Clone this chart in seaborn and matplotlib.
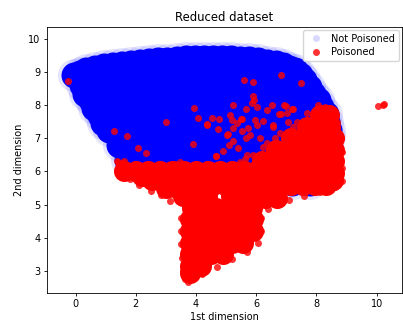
import numpy as np
import pandas as pd
import matplotlib
matplotlib.use("Agg")
import matplotlib.pyplot as plt
from matplotlib.lines import Line2D
import seaborn as sns

# ---- "Not Poisoned" cloud ----
blue_edge_x = [-0.05, 0.15, 0.35, 0.65, 0.95, 1.25, 1.55, 1.85, 2.15, 2.45, 2.75, 3.05, 3.35, 3.65,
               3.95, 4.25, 4.55, 4.85, 5.15, 5.45, 5.75, 6.05, 6.35, 6.65, 6.9, 7.1, 7.3, 7.45, 7.6,
               7.75, 7.9, 8.05, 8.15, 8.3, 8.35, 8.4, 8.4, 0.3, 0.6, 0.9]
blue_edge_y = [8.9, 8.98, 9.06, 9.12, 9.17, 9.21, 9.25, 9.28, 9.3, 9.33, 9.35, 9.37, 9.38, 9.41,
               9.43, 9.43, 9.43, 9.43, 9.42, 9.4, 9.38, 9.35, 9.31, 9.26, 9.2, 9.13, 9.05, 8.92, 8.75,
               8.56, 8.35, 8.15, 7.95, 7.72, 7.5, 7.25, 7.05, 8.35, 7.9, 7.45]

blue_row_y = [9.0, 8.6, 8.15, 7.7, 7.25, 6.8, 6.35, 5.9, 5.65]
blue_row_x = [
    [1.2, 1.8, 2.4, 3.0, 3.6, 4.2, 4.8, 5.4, 6.0, 6.6, 7.1],
    [0.2, 0.8, 1.4, 2.0, 2.6, 3.2, 3.8, 4.4, 5.0, 5.6, 6.2, 6.8, 7.4],
    [0.5, 1.1, 1.7, 2.3, 2.9, 3.5, 4.1, 4.7, 5.3, 5.9, 6.5, 7.1, 7.7],
    [0.8, 1.4, 2.0, 2.6, 3.2, 3.8, 4.4, 5.0, 5.6, 6.2, 6.8, 7.4, 8.0],
    [1.1, 1.7, 2.3, 2.9, 3.5, 4.1, 4.7, 5.3, 5.9, 6.5, 7.1, 7.7, 8.25],
    [1.45, 2.05, 2.65, 3.25, 3.85, 4.45, 5.05, 5.65, 6.25, 6.85, 7.45, 8.05, 8.35],
    [1.7, 2.3, 2.9, 3.5, 4.1, 4.7, 5.3, 5.9, 6.5, 7.1, 7.7, 8.3, 8.35],
    [3.2, 3.8, 4.4, 5.0, 5.6, 6.2, 6.8, 7.4, 8.0, 8.3],
    [6.6, 7.2, 7.8],
]

# ---- "Poisoned" dense regions (rows: y of row, x positions) ----
red_row_y = [6.0, 5.6, 5.25, 4.9, 4.55, 4.2, 3.85, 3.5, 3.15, 2.92,
             7.7, 7.35, 7.0, 6.65, 6.3, 5.95, 5.6, 5.2]
red_row_x = [
    [1.6, 2.0, 2.4, 2.8, 3.2, 3.6, 4.0, 4.4, 4.8, 5.2, 5.6, 6.0],
    [3.75, 4.15, 4.55, 4.95, 5.35, 5.75, 6.15],
    [3.55, 3.95, 4.35, 5.15, 5.55, 5.95],
    [3.85, 4.25, 4.65, 5.05, 5.45, 5.85],
    [3.8, 4.2, 4.55, 4.9, 5.25, 5.6, 5.88],
    [3.8, 4.15, 4.5, 4.85, 5.2, 5.55, 5.88],
    [3.8, 4.15, 4.5, 4.85, 5.2, 5.55],
    [3.8, 4.15, 4.5, 4.88],
    [3.8, 4.15],
    [3.8],
    [8.1, 8.4],
    [7.7, 8.05, 8.45],
    [7.15, 7.55, 7.95, 8.35, 8.58],
    [6.65, 7.05, 7.45, 7.85, 8.25, 8.58],
    [6.2, 6.6, 7.0, 7.4, 7.8, 8.2, 8.58],
    [6.4, 6.8, 7.2, 7.6, 8.0, 8.4, 8.58],
    [6.75, 7.15, 7.55, 7.95, 8.3],
    [6.3, 6.7],
]
red_fill_extra_x = [2.2, 2.55, 2.95, 3.35, 3.0, 8.55]
red_fill_extra_y = [5.85, 5.75, 5.65, 5.5, 5.5, 5.75]

# ---- "Poisoned" individual points ----
red_dot_x = [-0.27, 1.28, 1.70, 2.06, 2.34, 1.39, 1.61, 3.0, 5.6, 5.88, 6.81, 7.49, 3.94, 4.07, 4.52, 4.77,
             4.37, 4.74, 3.91, 4.66, 4.90, 5.24, 5.13, 5.18, 5.51, 5.66, 5.88, 5.93, 5.85, 6.03, 6.35, 6.53,
             6.81, 6.92, 5.51, 5.73, 6.01, 5.07, 5.24, 5.1, 5.66, 6.23, 6.56, 6.12, 6.35, 7.2, 7.01, 5.96,
             7.34, 7.67, 8.06, 8.28, 8.39, 8.67, 5.79, 6.23, 5.68, 5.40, 5.02, 5.24, 5.35, 5.49, 4.65, 4.35,
             7.06, 7.23, 6.57, 6.62, 6.79, 7.22, 6.98, 6.77,
             1.42, 1.58, 1.86, 2.14, 2.41, 2.63, 2.86, 3.30, 3.46, 3.60, 3.85, 4.02, 4.79, 5.24, 5.46, 5.62, 5.90,
             10.05, 10.2, 10.24,
             3.5, 3.5, 3.5, 3.52, 3.55, 3.62, 3.72, 4.2, 4.7, 5.2, 5.7, 6.05, 6.15, 6.15, 6.1,
             1.45, 1.6, 1.8, 2.1, 2.5, 2.85, 3.15,
             8.8, 8.85, 8.85, 8.85, 8.6, 8.1, 7.6, 7.1, 6.7, 6.4]
red_dot_y = [8.72, 7.23, 7.08, 6.71, 6.56, 6.31, 6.31, 7.48, 8.75, 8.69, 8.92, 8.68, 7.92, 7.61, 7.61, 7.59,
             7.41, 7.28, 6.84, 6.46, 6.61, 8.02, 7.71, 7.56, 7.59, 7.89, 8.27, 8.17, 8.07, 7.94, 7.86, 8.02,
             7.73, 8.0, 7.21, 7.31, 7.41, 7.13, 6.91, 6.81, 7.01, 7.51, 7.41, 7.01, 6.86, 7.89, 7.76, 7.55,
             7.5, 7.76, 8.0, 7.95, 7.85, 7.5, 7.1, 6.75, 6.5, 6.70, 7.10, 7.30, 7.45, 7.57, 6.48, 7.42,
             7.50, 7.35, 7.35, 7.0, 7.15, 7.88, 7.96, 7.73,
             6.29, 6.24, 6.14, 6.14, 6.09, 6.09, 6.09, 6.22, 6.29, 6.19, 6.04, 6.14, 6.14, 6.14, 6.29, 6.39, 6.50,
             7.97, 8.02, 8.04,
             4.6, 4.2, 3.8, 3.4, 3.0, 2.75, 2.66, 2.9, 3.12, 3.35, 3.58, 3.85, 4.2, 4.6, 5.0,
             6.15, 5.92, 5.78, 5.6, 5.42, 5.28, 5.1,
             7.0, 6.6, 6.1, 5.7, 5.52, 5.38, 5.25, 5.14, 5.0, 4.88]

title = "Reduced dataset"
x_label = "1st dimension"
y_label = "2nd dimension"
legend_labels = ["Not Poisoned", "Poisoned"]

# ---- assemble tables ----
bx = list(blue_edge_x)
by = list(blue_edge_y)
for yv, xs in zip(blue_row_y, blue_row_x):
    bx += xs
    by += [yv] * len(xs)
blue_df = pd.DataFrame({"x": bx, "y": by})

rx = list(red_fill_extra_x)
ry = list(red_fill_extra_y)
for yv, xs in zip(red_row_y, red_row_x):
    rx += xs
    ry += [yv] * len(xs)
red_fill_df = pd.DataFrame({"x": rx, "y": ry})
red_dot_df = pd.DataFrame({"x": red_dot_x, "y": red_dot_y})

fig = plt.figure(figsize=(4.03, 3.24), dpi=100)
ax = fig.add_axes([0.116, 0.0957, 0.8815, 0.821])

px = 0.72  # points per pixel at dpi 100
sns.scatterplot(data=blue_df, x="x", y="y", ax=ax, color=(0, 0, 1), alpha=0.1,
                s=(33 * px) ** 2, linewidth=0, legend=False)
sns.scatterplot(data=blue_df, x="x", y="y", ax=ax, color=(0, 0, 1), alpha=1.0,
                s=(26 * px) ** 2, linewidth=0, legend=False)
sns.scatterplot(data=red_fill_df, x="x", y="y", ax=ax, color=(1, 0, 0), alpha=1.0,
                s=(21 * px) ** 2, linewidth=0, legend=False)
sns.scatterplot(data=red_dot_df, x="x", y="y", ax=ax, color=(1, 0, 0), alpha=0.8,
                s=(7 * px) ** 2, linewidth=0, legend=False)

ax.set_xlim(-0.96, 10.84)
ax.set_ylim(2.33, 10.36)
ax.set_xticks([0, 2, 4, 6, 8, 10])
ax.set_yticks([3, 4, 5, 6, 7, 8, 9, 10])
ax.tick_params(labelsize=7, length=2.5, width=0.6, pad=2)
for sp in ax.spines.values():
    sp.set_linewidth(0.6)
ax.set_xlabel(x_label, fontsize=7, labelpad=2)
ax.set_ylabel(y_label, fontsize=7, labelpad=3)
ax.set_title(title, fontsize=8.4, pad=4)

handles = [
    Line2D([], [], marker="o", linestyle="", color=(0, 0, 1), alpha=0.15, markersize=5, markeredgewidth=0),
    Line2D([], [], marker="o", linestyle="", color=(1, 0, 0), alpha=0.8, markersize=5, markeredgewidth=0),
]
ax.legend(handles, legend_labels, loc="upper right", fontsize=7, borderaxespad=0.35,
          handletextpad=0.6, borderpad=0.35, labelspacing=0.35, framealpha=0.8)

fig.savefig("out.png", dpi=100)
